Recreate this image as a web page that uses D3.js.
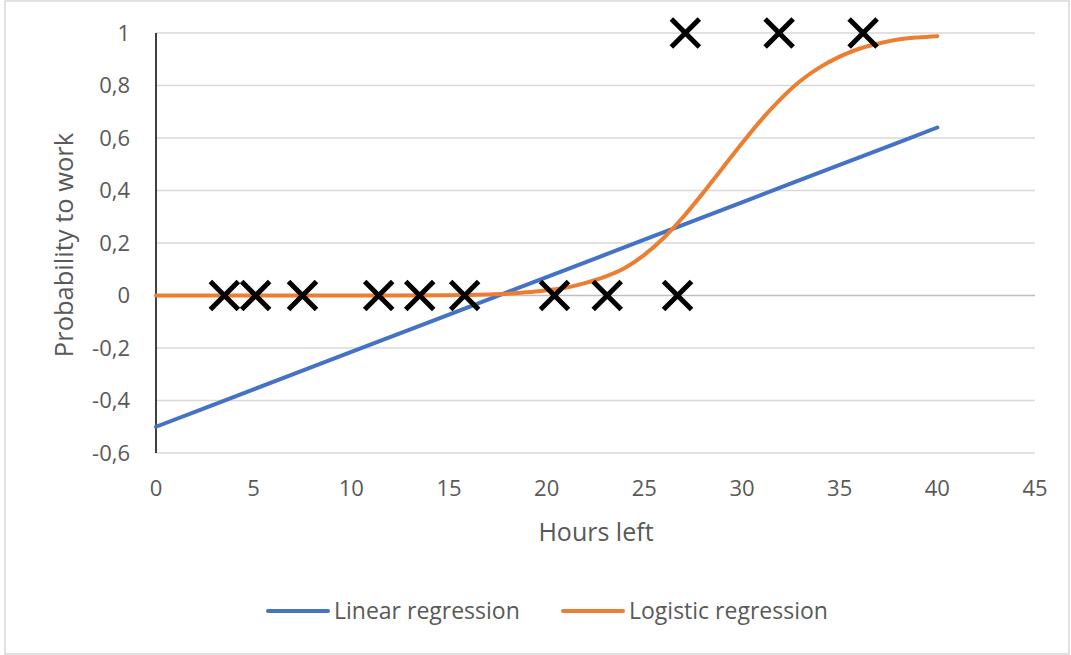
<!DOCTYPE html>
<html>
<head>
<meta charset="utf-8">
<script src="https://cdn.jsdelivr.net/npm/d3@7"></script>
<style>
  body { margin: 0; background: #fff; }
  svg { display: block; }
  text { font-family: "Open Sans", "Noto Sans", sans-serif; fill: #595959; }
</style>
</head>
<body>
<div id="chart"></div>
<script>
// data
const hours = [0, 5, 10, 15, 20, 25, 30, 35, 40];
const linearValues = [-0.5, -0.3575, -0.215, -0.0725, 0.07, 0.2125, 0.355, 0.4975, 0.64];

const logHours = [0, 5, 10, 15, 16, 17, 18, 19, 20, 21, 22, 23, 24, 25, 26, 27, 28, 29, 30, 31, 32, 33, 34, 35, 36, 37, 38, 39, 40];
const logisticValues = [0, 0, 0, 0.001, 0.002, 0.004, 0.007, 0.012, 0.02, 0.03, 0.048, 0.072, 0.105, 0.155, 0.22, 0.3, 0.39, 0.485, 0.58, 0.67, 0.75, 0.818, 0.87, 0.91, 0.94, 0.96, 0.975, 0.983, 0.988];

const pointHours = [3.5, 5.1, 7.5, 11.4, 13.5, 15.8, 20.4, 23.1, 26.7, 27.1, 31.9, 36.2];
const pointValues = [0, 0, 0, 0, 0, 0, 0, 0, 0, 1, 1, 1];

const xTicks = [0, 5, 10, 15, 20, 25, 30, 35, 40, 45];
const yTicks = [-0.6, -0.4, -0.2, 0, 0.2, 0.4, 0.6, 0.8, 1];

const seriesNames = ['Linear regression', 'Logistic regression'];
const seriesColors = ['#4472C4', '#ED7D31'];

const width = 1071;
const height = 655;
const margin = {top: 33, right: 36, bottom: 202, left: 156};
const innerWidth = width - margin.left - margin.right;
const innerHeight = height - margin.top - margin.bottom;

const svg = d3.select('#chart').append('svg')
  .attr('width', width)
  .attr('height', height);

// chart border
svg.append('rect')
  .attr('x', 5).attr('y', 1)
  .attr('width', 1064).attr('height', 653)
  .attr('fill', 'none')
  .attr('stroke', '#d9d9d9')
  .attr('stroke-width', 1.5);

const xScale = d3.scaleLinear().domain([0, 45]).range([0, innerWidth]);
const yScale = d3.scaleLinear().domain([-0.6, 1]).range([innerHeight, 0]);

const g = svg.append('g')
  .attr('transform', `translate(${margin.left}, ${margin.top})`);

// gridlines
g.selectAll('.grid')
  .data(yTicks)
  .enter().append('line')
  .attr('x1', 0).attr('x2', innerWidth)
  .attr('y1', d => yScale(d)).attr('y2', d => yScale(d))
  .attr('stroke', d => d === 0 ? '#bfbfbf' : '#d9d9d9')
  .attr('stroke-width', 1.5);

// y axis labels
const fmt = d => d === 0 ? '0' : d3.format('.1f')(d).replace('.', ',').replace(/,0$/, '').replace('−', '-');
g.selectAll('.ylab')
  .data(yTicks)
  .enter().append('text')
  .attr('x', -26)
  .attr('y', d => yScale(d))
  .attr('dy', '0.35em')
  .attr('text-anchor', 'end')
  .attr('font-size', 22)
  .text(fmt);

// x axis labels
g.selectAll('.xlab')
  .data(xTicks)
  .enter().append('text')
  .attr('x', d => xScale(d))
  .attr('y', innerHeight + 35)
  .attr('dy', '0.35em')
  .attr('text-anchor', 'middle')
  .attr('font-size', 22)
  .text(d => d);

// vertical axis line
g.append('line')
  .attr('x1', 0).attr('x2', 0)
  .attr('y1', 0).attr('y2', innerHeight)
  .attr('stroke', '#000')
  .attr('stroke-width', 1.5);

// axis titles
svg.append('text')
  .attr('x', 596).attr('y', 532)
  .attr('dy', '0.35em')
  .attr('text-anchor', 'middle')
  .attr('font-size', 25)
  .text('Hours left');

svg.append('text')
  .attr('transform', 'translate(64, 245) rotate(-90)')
  .attr('dy', '0.35em')
  .attr('text-anchor', 'middle')
  .attr('font-size', 25.5)
  .text('Probability to work');

// lines
const lineGenerator = d3.line()
  .x(d => xScale(d[0]))
  .y(d => yScale(d[1]))
  .curve(d3.curveMonotoneX);

g.append('path')
  .attr('d', lineGenerator(d3.zip(hours, linearValues)))
  .attr('fill', 'none')
  .attr('stroke', seriesColors[0])
  .attr('stroke-width', 4)
  .attr('stroke-linecap', 'round');

g.append('path')
  .attr('d', lineGenerator(d3.zip(logHours, logisticValues)))
  .attr('fill', 'none')
  .attr('stroke', seriesColors[1])
  .attr('stroke-width', 4)
  .attr('stroke-linecap', 'round');

// scatter X markers
const s = 14;
g.selectAll('.mark')
  .data(d3.zip(pointHours, pointValues))
  .enter().append('path')
  .attr('transform', d => `translate(${xScale(d[0])}, ${yScale(d[1])})`)
  .attr('d', `M${-s},${-s}L${s},${s}M${-s},${s}L${s},${-s}`)
  .attr('stroke', '#000')
  .attr('stroke-width', 5)
  .attr('fill', 'none');

// legend
const legendX = [268, 563];
const legend = svg.selectAll('.legend')
  .data(seriesNames)
  .enter().append('g')
  .attr('transform', (d, i) => `translate(${legendX[i]}, 611)`);

legend.append('line')
  .attr('x1', 0).attr('x2', 60)
  .attr('stroke', (d, i) => seriesColors[i])
  .attr('stroke-width', 4)
  .attr('stroke-linecap', 'round');

legend.append('text')
  .attr('x', 66)
  .attr('dy', '0.35em')
  .attr('font-size', 23)
  .text(d => d);
</script>
</body>
</html>
